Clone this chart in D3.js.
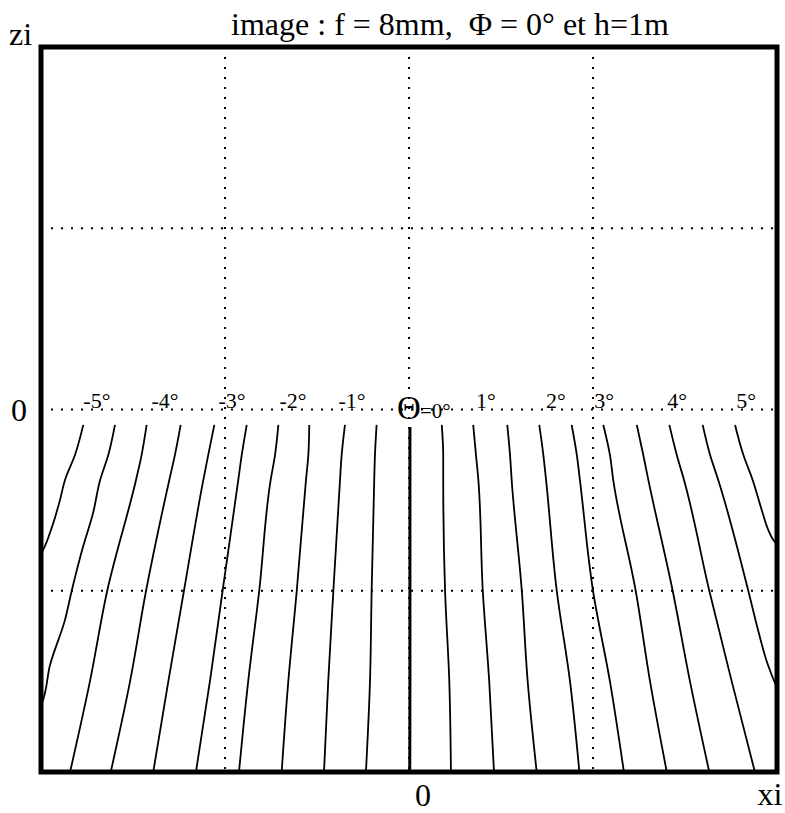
<!DOCTYPE html>
<html>
<head>
<meta charset="utf-8">
<script src="https://cdn.jsdelivr.net/npm/d3@7"></script>
<style>
  body { margin: 0; background: #fff; }
  text { font-family: "Liberation Serif", "Times New Roman", serif; fill: #000; }
</style>
</head>
<body>
<div id="chartContainer"></div>
<script>
// box of the plot, in pixels
const box = { left: 41, right: 777, top: 47, bottom: 772 };
const width = 785, height = 813;

// grid positions (image units)
const gridXi = [-1, 0, 1];
const gridZi = [-1, 0, 1];

// iso-angle lines, every 0.5 degree as [xi, zi]
const angles = [-5, -4.5, -4, -3.5, -3, -2.5, -2, -1.5, -1, -0.5, 0,
  0.5, 1, 1.5, 2, 2.5, 3, 3.5, 4, 4.5, 5];
const zLevels = [-0.085, -0.25, -0.39, -1.0, -1.5, -2.0];

const lineM50 = [[-1.770, -0.085], [-1.815, -0.25], [-1.870, -0.39], [-1.897, -0.50], [-1.946, -0.665], [-1.989, -0.775], [-2.04, -0.85]];
const lineM45 = [[-1.598, -0.085], [-1.634, -0.25], [-1.679, -0.39], [-1.717, -0.571], [-1.772, -0.759], [-1.833, -1.0], [-1.870, -1.162], [-1.951, -1.41], [-1.989, -1.603], [-2.03, -1.7]];
const lineM40 = [-1.426, -1.453, -1.484, -1.640, -1.734, -1.842];
const lineM35 = [-1.241, -1.272, -1.303, -1.429, -1.516, -1.621];
const lineM30 = [-1.058, -1.091, -1.118, -1.223, -1.308, -1.390];
const lineM25 = [-0.882, -0.909, -0.928, -1.013, -1.082, -1.158];
const lineM20 = [-0.710, -0.728, -0.752, -0.814, -0.874, -0.924];
const lineM15 = [-0.542, -0.547, -0.560, -0.610, -0.656, -0.692];
const lineM10 = [-0.348, -0.366, -0.375, -0.411, -0.439, -0.462];
const lineM05 = [-0.176, -0.185, -0.189, -0.203, -0.212, -0.234];
const line00 = [[0.005, -0.097], [0.005, -0.25], [0.005, -0.39], [0.005, -1.0], [0.005, -1.5], [0.004, -2.0]];
const lineP05 = [0.178, 0.186, 0.186, 0.196, 0.219, 0.228];
const lineP10 = [0.349, 0.364, 0.377, 0.401, 0.436, 0.462];
const lineP15 = [0.534, 0.549, 0.558, 0.613, 0.645, 0.694];
const lineP20 = [0.708, 0.730, 0.745, 0.803, 0.875, 0.926];
const lineP25 = [0.884, 0.912, 0.929, 1.000, 1.092, 1.168];
const lineP30 = [1.056, 1.092, 1.110, 1.232, 1.310, 1.401];
const lineP35 = [1.238, 1.273, 1.301, 1.433, 1.527, 1.632];
const lineP40 = [1.415, 1.455, 1.495, 1.632, 1.754, 1.880];
const lineP45 = [[1.596, -0.085], [1.636, -0.25], [1.681, -0.39], [1.844, -1.0], [1.897, -1.217], [1.951, -1.41], [1.989, -1.509], [2.03, -1.6]];
const lineP50 = [[1.772, -0.085], [1.817, -0.25], [1.868, -0.39], [1.917, -0.554], [1.953, -0.665], [1.980, -0.72], [2.04, -0.78]];

// angle labels along the horizon
const labelDeg = [-5, -4, -3, -2, -1, 1, 2, 3, 4, 5];
const labelXi = [-1.696, -1.326, -0.962, -0.630, -0.310, 0.418, 0.799, 1.060, 1.457, 1.832];

const title = "image : f = 8mm,\u00A0 \u03A6 = 0\u00B0 et h=1m";

// pair a list of xi with the common zi levels
const withLevels = (xs) => xs.map((x, i) => [x, zLevels[i]]);
const contours = [
  lineM50, lineM45, withLevels(lineM40), withLevels(lineM35), withLevels(lineM30),
  withLevels(lineM25), withLevels(lineM20), withLevels(lineM15), withLevels(lineM10),
  withLevels(lineM05), line00, withLevels(lineP05), withLevels(lineP10),
  withLevels(lineP15), withLevels(lineP20), withLevels(lineP25), withLevels(lineP30),
  withLevels(lineP35), withLevels(lineP40), lineP45, lineP50,
];

const svg = d3
  .select("#chartContainer")
  .append("svg")
  .attr("width", width)
  .attr("height", height);

const x = d3.scaleLinear().domain([-2, 2]).range([box.left, box.right]);
const y = d3.scaleLinear().domain([-2, 2]).range([box.bottom, box.top]);

svg
  .append("clipPath")
  .attr("id", "plotClip")
  .append("rect")
  .attr("x", box.left)
  .attr("y", box.top)
  .attr("width", box.right - box.left)
  .attr("height", box.bottom - box.top);

// dotted grid
svg
  .selectAll(".vgrid")
  .data(gridXi)
  .enter()
  .append("line")
  .attr("class", "vgrid")
  .attr("x1", (d) => x(d))
  .attr("x2", (d) => x(d))
  .attr("y1", box.top)
  .attr("y2", box.bottom)
  .attr("stroke", "#000")
  .attr("stroke-width", 2)
  .attr("stroke-dasharray", "2,8");

svg
  .selectAll(".hgrid")
  .data(gridZi)
  .enter()
  .append("line")
  .attr("class", "hgrid")
  .attr("x1", box.left)
  .attr("x2", box.right)
  .attr("y1", (d) => y(d))
  .attr("y2", (d) => y(d))
  .attr("stroke", "#000")
  .attr("stroke-width", 2)
  .attr("stroke-dasharray", "2,8");

// iso-angle lines
const line = d3
  .line()
  .x((d) => x(d[0]))
  .y((d) => y(d[1]))
  .curve(d3.curveMonotoneY);

svg
  .append("g")
  .attr("clip-path", "url(#plotClip)")
  .selectAll("path")
  .data(contours)
  .enter()
  .append("path")
  .attr("d", line)
  .attr("fill", "none")
  .attr("stroke", "#000")
  .attr("stroke-width", (d, i) => (angles[i] === 0 ? 3 : 1.8));

// frame
svg
  .append("rect")
  .attr("x", box.left)
  .attr("y", box.top)
  .attr("width", box.right - box.left)
  .attr("height", box.bottom - box.top)
  .attr("fill", "none")
  .attr("stroke", "#000")
  .attr("stroke-width", 5);

// angle labels
svg
  .selectAll(".deg")
  .data(labelDeg)
  .enter()
  .append("text")
  .attr("class", "deg")
  .attr("x", (d, i) => x(labelXi[i]))
  .attr("y", y(0) - 2)
  .attr("text-anchor", "middle")
  .style("font-size", "22px")
  .text((d) => d + "\u00B0");

svg
  .append("text")
  .attr("x", x(0))
  .attr("y", y(0) + 9)
  .attr("text-anchor", "middle")
  .style("font-size", "33px")
  .text("\u0398");

svg
  .append("text")
  .attr("x", x(0) + 11)
  .attr("y", y(0) + 8)
  .style("font-size", "21px")
  .text("=0\u00B0");

// title and axis names
svg
  .append("text")
  .attr("x", 450)
  .attr("y", 35)
  .attr("text-anchor", "middle")
  .style("font-size", "32px")
  .text(title);

svg.append("text").attr("x", 9).attr("y", 45).style("font-size", "32px").text("zi");
svg.append("text").attr("x", 19).attr("y", y(0) + 11).attr("text-anchor", "middle").style("font-size", "32px").text("0");
svg.append("text").attr("x", x(0) + 14).attr("y", 806).attr("text-anchor", "middle").style("font-size", "32px").text("0");
svg.append("text").attr("x", 770).attr("y", 805).attr("text-anchor", "middle").style("font-size", "32px").text("xi");
</script>
</body>
</html>
